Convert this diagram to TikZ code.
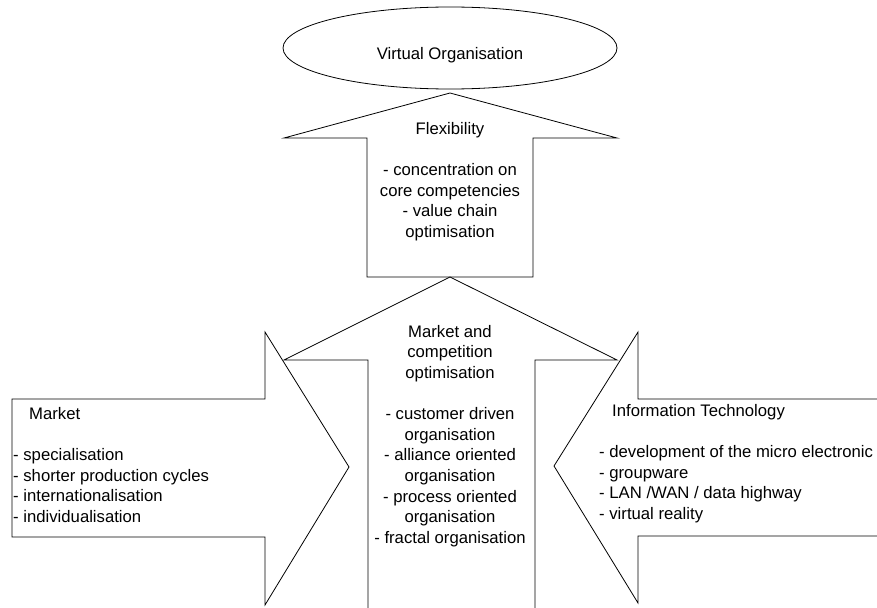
\documentclass[tikz,border=0pt]{standalone}
\usepackage{fontspec}
\setmainfont{Liberation Sans}
\usetikzlibrary{shapes.geometric}

\tikzset{
	blockarrow/.style={draw, fill=white, line width=.8pt, line join=miter},
	boxtext/.style={inner sep=0pt, font=\fontsize{16.7}{20.6}\selectfont},
}

\begin{document}
\begin{tikzpicture}[x=1pt, y=-1pt]
	\useasboundingbox (0,0) rectangle (877,607);

	% Arrows
	\draw[blockarrow] (450,93) -- (617,138) -- (533,138) -- (533,277) -- (367,277) -- (367,138) -- (284,138) -- cycle;
	\draw[blockarrow] (368,612) -- (368,360) -- (284,360) -- (450,277) -- (617,360) -- (535,360) -- (535,612);
	\draw[blockarrow] (12,399) -- (265,399) -- (265,332) -- (349,467) -- (265,605) -- (265,537) -- (12,537) -- cycle;
	\draw[blockarrow] (880,399) -- (638,399) -- (638,332) -- (554,466) -- (638,603) -- (638,536) -- (880,536);

	% Nodes
	\node[ellipse, draw, line width=.8pt, minimum width=334, minimum height=82] (vo) at (450,48) {};
	\node[boxtext] (vo label) at (450,55) {Virtual Organisation};
	\node[boxtext, anchor=north, align=center] (flex) at (450,122) {Flexibility\\[20.6pt]- concentration on\\core competencies\\- value chain\\optimisation};
	\node[boxtext, anchor=north, align=center] (mco) at (450,325) {Market and\\competition\\optimisation\\[20.6pt]- customer driven\\organisation\\- alliance oriented\\organisation\\- process oriented\\organisation\\- fractal organisation};
	\node[boxtext, anchor=north west, align=left] (market) at (13,407) {\hspace*{16pt}Market\\[20.6pt]- specialisation\\- shorter production cycles\\- internationalisation\\- individualisation};
	\node[boxtext, anchor=north west, align=left] (it) at (599,404) {\hspace*{13pt}Information Technology\\[20.6pt]- development of the micro electronic\\- groupware\\- LAN /WAN / data highway\\- virtual reality};
\end{tikzpicture}
\end{document}
